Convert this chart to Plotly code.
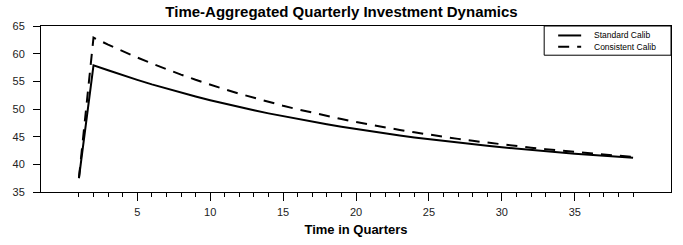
import plotly.graph_objects as go

quarters = list(range(1, 40))
standard_calib = [37.5, 57.9, 57.0, 56.1, 55.26, 54.45, 53.69, 52.96, 52.26, 51.59, 50.95,
                  50.35, 49.76, 49.21, 48.68, 48.18, 47.69, 47.23, 46.79, 46.37, 45.97,
                  45.59, 45.22, 44.87, 44.54, 44.22, 43.92, 43.63, 43.35, 43.09, 42.83,
                  42.59, 42.36, 42.14, 41.93, 41.73, 41.54, 41.36, 41.18]
consistent_calib = [37.5, 62.9, 61.64, 60.44, 59.30, 58.22, 57.19, 56.21, 55.28, 54.39, 53.56,
                    52.76, 52.00, 51.28, 50.59, 49.94, 49.33, 48.74, 48.18, 47.65, 47.14,
                    46.66, 46.21, 45.78, 45.36, 44.97, 44.60, 44.25, 43.91, 43.60, 43.29,
                    43.00, 42.73, 42.47, 42.22, 41.99, 41.77, 41.55, 41.35]
series_names = ["Standard Calib", "Consistent Calib"]
x_tick_vals = [5, 10, 15, 20, 25, 30, 35]
y_tick_vals = [35, 40, 45, 50, 55, 60, 65]

FONT = "Liberation Sans, Arial, sans-serif"
DASH = "11px,8px"
styles = [dict(color="black", width=2), dict(color="black", width=2, dash=DASH)]

fig = go.Figure()
for name, vals, st in zip(series_names, [standard_calib, consistent_calib], styles):
    fig.add_trace(go.Scatter(x=quarters, y=vals, mode="lines", name=name,
                             line=st, showlegend=False))

# compact legend box (top-right, inside plot area)
L_X0, L_X1, L_Y0, L_Y1 = 0.7987, 1.0, 0.824, 1.0
S_X0, S_X1, T_X = 0.8209, 0.8574, 0.8748
rows_y = [0.943, 0.875]
shapes = [dict(type="rect", xref="paper", yref="paper", x0=L_X0, x1=L_X1, y0=L_Y0, y1=L_Y1,
               line=dict(color="black", width=1), fillcolor="white", layer="above")]
annotations = []
for name, st, ry in zip(series_names, styles, rows_y):
    shapes.append(dict(type="line", xref="paper", yref="paper", x0=S_X0, x1=S_X1, y0=ry, y1=ry,
                       line=dict(color="black", width=2, dash=st.get("dash", "solid")),
                       layer="above"))
    annotations.append(dict(xref="paper", yref="paper", x=T_X, y=ry, xanchor="left",
                            yanchor="middle", text=name, showarrow=False,
                            font=dict(size=8.5, family=FONT, color="black")))

fig.update_layout(
    width=683, height=245,
    margin=dict(l=41, r=11, t=26, b=43),
    paper_bgcolor="white", plot_bgcolor="white",
    font=dict(family=FONT, color="black"),
    title=dict(text="<b>Time-Aggregated Quarterly Investment Dynamics</b>",
               x=0.5, xanchor="center", y=0.953, yanchor="middle",
               font=dict(size=15, family=FONT, color="black")),
    shapes=shapes, annotations=annotations,
    showlegend=False,
)
fig.update_xaxes(
    range=[-1.6, 41.6], tickmode="array", tickvals=x_tick_vals,
    ticks="outside", ticklen=8, tickcolor="black", tickwidth=1,
    ticklabelstandoff=2,
    minor=dict(tickmode="array", tickvals=quarters, ticks="outside", ticklen=4,
               tickcolor="black", tickwidth=1, showgrid=False),
    showline=True, linecolor="black", linewidth=1, mirror=True,
    showgrid=False, zeroline=False,
    tickfont=dict(size=11, family=FONT, color="#222"),
    title=dict(text="<b>Time in Quarters</b>", font=dict(size=13, family=FONT, color="black"),
               standoff=7),
)
fig.update_yaxes(
    range=[35, 65], tickmode="array", tickvals=y_tick_vals,
    ticks="outside", ticklen=7, tickcolor="black", tickwidth=1,
    ticklabelstandoff=6,
    showline=True, linecolor="black", linewidth=1, mirror=True,
    showgrid=False, zeroline=False,
    tickfont=dict(size=11, family=FONT, color="#222"),
)

fig.write_html("out.html", config={"displayModeBar": False},
               post_script="document.body.style.margin='0';")
